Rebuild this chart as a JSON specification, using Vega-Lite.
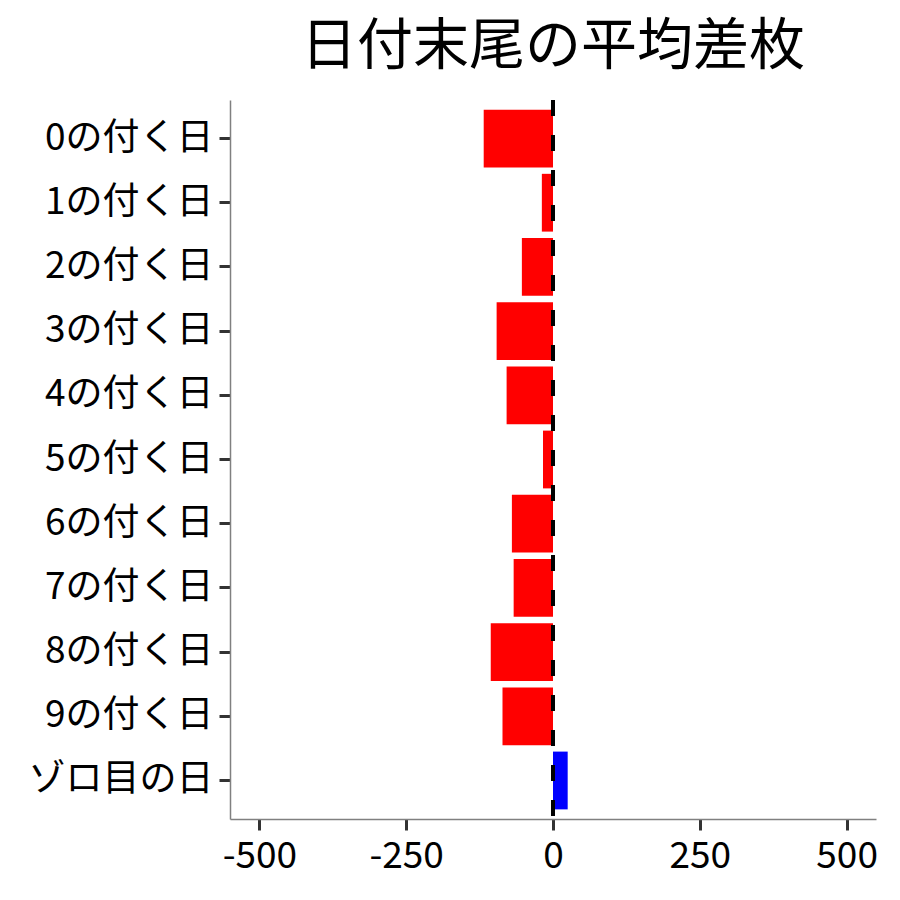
{
  "$schema": "https://vega.github.io/schema/vega-lite/v6.json",
  "width": 646,
  "height": 719,
  "autosize": "none",
  "padding": {"left": 230, "top": 100, "right": 24, "bottom": 81},
  "title": {
    "text": "日付末尾の平均差枚",
    "font": "Noto Sans CJK JP",
    "fontSize": 56,
    "fontWeight": "normal",
    "color": "black",
    "anchor": "middle",
    "frame": "group",
    "offset": 22
  },
  "data": {
    "values": [
      {"label": "0の付く日", "diff": -118},
      {"label": "1の付く日", "diff": -19},
      {"label": "2の付く日", "diff": -53},
      {"label": "3の付く日", "diff": -96},
      {"label": "4の付く日", "diff": -79},
      {"label": "5の付く日", "diff": -17},
      {"label": "6の付く日", "diff": -70},
      {"label": "7の付く日", "diff": -67},
      {"label": "8の付く日", "diff": -106},
      {"label": "9の付く日", "diff": -86},
      {"label": "ゾロ目の日", "diff": 25}
    ]
  },
  "layer": [
    {
      "mark": {"type": "bar"},
      "encoding": {
        "y": {
          "field": "label",
          "type": "nominal",
          "sort": null,
          "scale": {"paddingInner": 0.1, "paddingOuter": 0.15},
          "axis": {"title": null}
        },
        "x": {
          "field": "diff",
          "type": "quantitative",
          "scale": {"domain": [-550, 550], "nice": false, "zero": false},
          "axis": {
            "title": null,
            "values": [-500, -250, 0, 250, 500],
            "labelExpr": "datum.value < 0 ? '-' + abs(datum.value) : '' + datum.value",
            "labelPadding": 8
          }
        },
        "color": {
          "condition": {"test": "datum.diff < 0", "value": "#ff0000"},
          "value": "#0000ff"
        }
      }
    },
    {
      "mark": {"type": "rule", "color": "black", "strokeWidth": 4, "strokeDash": [16, 19]},
      "encoding": {"x": {"datum": 0}}
    }
  ],
  "config": {
    "view": {"stroke": null},
    "axis": {
      "grid": false,
      "domainColor": "#808080",
      "domainWidth": 1.5,
      "tickColor": "#333333",
      "tickWidth": 3,
      "tickSize": 11,
      "labelFont": "Noto Sans CJK JP",
      "labelFontSize": 37,
      "labelColor": "black",
      "labelPadding": 6,
      "labelLimit": 300
    }
  }
}
